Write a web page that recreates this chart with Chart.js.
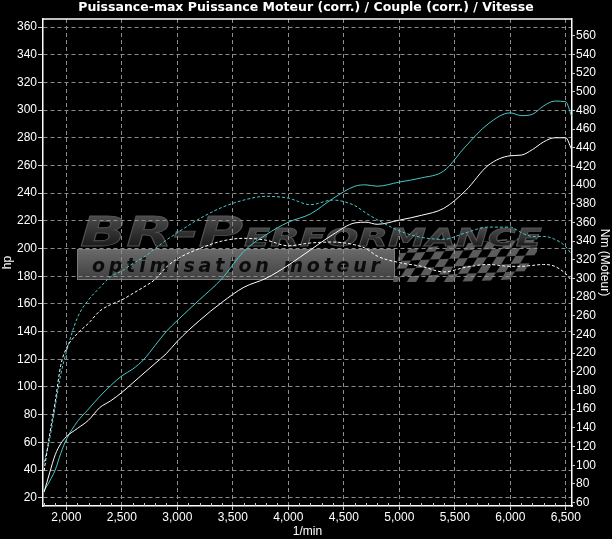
<!DOCTYPE html>
<html><head><meta charset="utf-8">
<script src="https://cdn.jsdelivr.net/npm/chart.js@4.4.1/dist/chart.umd.min.js"></script>
<style>html,body{margin:0;padding:0;background:#000;}#wrap{width:612px;height:539px;}</style>
</head><body><div id="wrap"><canvas id="c" width="612" height="539"></canvas></div>
<script>
// rpm (1/min)
const rpm=[1800,1850,1900,1950,2000,2100,2200,2300,2400,2500,2600,2700,2800,2900,3000,3200,3400,3600,3800,4000,4200,4400,4600,4700,4800,5000,5200,5400,5600,5800,6000,6100,6200,6300,6400,6500,6550];
// puissance (hp)
const hpTuned=[25,32,40,52,62,75,84,93,101,108,113,120,130,140,148,163,178,198,210,219,225,236,245,246,245,248,251,256,274,290,298,296,297,303,306.5,306,296];
const hpStock=[24,38,51,59,64,70,76,85,90,96,103,110,117,124,133,148,161,172,178.5,188,199,210,218.5,219,217.5,220.5,224,229,242,260,267,267.5,271.5,277,280,280,272];
// couple (Nm)
const nmTuned=[103,128,163,197,221,258,277,290,302,308,316,323,332,341,349,364,376,384,388,386,379,384,378,370,363,351,344,342,349,355,355,349,345,345,342,334,326];
const nmStock=[94,133,168,207,225,241,252,265,272,277,284,291,299,312,321,332,340,343,341,335,338,339,336,332,324,317,313,307,312,315,313,313,314,315,313,305,298];
// graduations
const xTicks=[2000,2500,3000,3500,4000,4500,5000,5500,6000,6500];
const hpTicks=[20,40,60,80,100,120,140,160,180,200,220,240,260,280,300,320,340,360];
const nmTicks=[60,80,100,120,140,160,180,200,220,240,260,280,300,320,340,360,380,400,420,440,460,480,500,520,540,560];

const pts=a=>rpm.map((r,i)=>({x:r,y:a[i]}));
const FONT='"Liberation Sans",Arial,sans-serif';
const CYAN='#48c8c8';

const logo={id:'logo',beforeDraw(ch){
  const c=ch.ctx;c.save();
  // bandeau gris
  let g=c.createLinearGradient(0,249,0,281);g.addColorStop(0,'#6a6a6a');g.addColorStop(1,'#3e3e3e');
  c.fillStyle=g;c.fillRect(77,249,318,31);
  c.strokeStyle='#7a7a7a';c.lineWidth=1;c.strokeRect(77.5,249.5,317,30);
  // damier
  c.save();c.beginPath();c.moveTo(393,282);c.lineTo(400,250);c.lineTo(537,236);c.lineTo(537,282);c.closePath();c.clip();
  for(let r=0;r<6;r++)for(let k=0;k<17;k++){
    if((r+k)%2)continue;
    const x0=388+k*9.5-r*5,y0=238+r*8-k*0.4;
    c.fillStyle='#5c5c5c';c.beginPath();c.moveTo(x0,y0);c.lineTo(x0+9.5,y0-0.4);c.lineTo(x0+4.5,y0+7.6);c.lineTo(x0-5,y0+8);c.closePath();c.fill();
  }
  c.restore();
  // texte optimisation moteur
  const sub='optimisation moteur';
  c.fillStyle='#0c0c0c';c.font='italic bold 19px "DejaVu Sans"';c.textBaseline='alphabetic';
  const nat=c.measureText(sub).width;
  c.letterSpacing=((288-nat)/(sub.length-1)).toFixed(2)+'px';
  c.fillText(sub,92,272);
  c.letterSpacing='0px';
  // BR-Performance
  const big=(t,px,x0,base,w)=>{c.font='italic bold '+px+'px "DejaVu Sans"';const m=c.measureText(t).width;
    c.save();c.translate(x0,base);c.scale(w/m,1);
    const gg=c.createLinearGradient(0,-px*0.75,0,0);gg.addColorStop(0,'#4c4c4c');gg.addColorStop(1,'#1c1c1c');
    c.fillStyle=gg;c.fillText(t,0,0);c.strokeStyle='#555';c.lineWidth=0.8;c.strokeText(t,0,0);c.restore();};
  big('BR-P',41,80,246,163);
  big('ERFORMANCE',25,244,246,298);
  c.restore();
}};

const frame={id:'frame',afterDraw(ch){
  const c=ch.ctx,a=ch.chartArea,sx=ch.scales.x;c.save();
  c.strokeStyle='#fff';c.lineWidth=1.5;
  c.beginPath();c.moveTo(a.left,a.top);c.lineTo(a.right,a.top);c.stroke();
  c.lineWidth=1;c.strokeStyle='#ccc';
  for(let v=1800;v<=6500;v+=100){if(v%500===0)continue;const px=Math.round(sx.getPixelForValue(v))+0.5;
    c.beginPath();c.moveTo(px,a.bottom);c.lineTo(px,a.bottom-3);c.stroke();}
  c.restore();
}};

const tickFont={family:FONT,size:12};
new Chart(document.getElementById('c'),{
  type:'line',
  data:{datasets:[
    {data:pts(nmStock),yAxisID:'y1',borderColor:'#fff',borderWidth:1,borderDash:[3,2]},
    {data:pts(nmTuned),yAxisID:'y1',borderColor:CYAN,borderWidth:1,borderDash:[3,2]},
    {data:pts(hpStock),yAxisID:'y',borderColor:'#fff',borderWidth:1},
    {data:pts(hpTuned),yAxisID:'y',borderColor:CYAN,borderWidth:1}
  ]},
  options:{
    responsive:false,animation:false,devicePixelRatio:1,
    layout:{padding:0},
    elements:{point:{radius:0},line:{cubicInterpolationMode:'monotone'}},
    plugins:{legend:{display:false},tooltip:{enabled:false},
      title:{display:true,text:'Puissance-max Puissance Moteur (corr.) / Couple (corr.) / Vitesse',color:'#fff',
        font:{family:'"DejaVu Sans",sans-serif',size:12.5,weight:'bold'},padding:{top:0.5,bottom:3.5}}},
    scales:{
      x:{type:'linear',min:1790,max:6556,
        afterBuildTicks:s=>{s.ticks=xTicks.map(v=>({value:v}));},
        afterFit:s=>{s.height=33;},
        ticks:{color:'#fff',font:tickFont,padding:0,maxRotation:0,autoSkip:false,callback:v=>v.toLocaleString('en-US')},
        grid:{color:'#8c8c8c',lineWidth:1,tickLength:4,tickColor:'#ccc'},
        border:{color:'#fff',width:1.5,dash:[4,3]},
        title:{display:true,text:'1/min',color:'#fff',font:tickFont,padding:0}},
      y:{position:'left',min:14,max:365.8,
        afterBuildTicks:s=>{s.ticks=hpTicks.map(v=>({value:v}));},
        afterFit:s=>{s.width=43;},
        ticks:{color:'#fff',font:tickFont,padding:1,autoSkip:false},
        grid:{color:'#8c8c8c',lineWidth:1,tickLength:5,tickColor:'#ccc'},
        border:{color:'#fff',width:1.5,dash:[4,3]},
        title:{display:true,text:'hp',color:'#fff',font:tickFont,padding:0}},
      y1:{position:'right',min:56.3,max:577.9,
        afterBuildTicks:s=>{s.ticks=nmTicks.map(v=>({value:v}));},
        afterFit:s=>{s.width=40;},
        ticks:{color:'#fff',font:tickFont,padding:1,autoSkip:false},
        grid:{drawOnChartArea:false,tickLength:3,tickColor:'#ccc'},
        border:{color:'#fff',width:1.5},
        title:{display:true,text:'Nm (Moteur)',color:'#fff',font:tickFont,padding:0}}
    }
  },
  plugins:[logo,frame]
});
</script>
</body></html>
